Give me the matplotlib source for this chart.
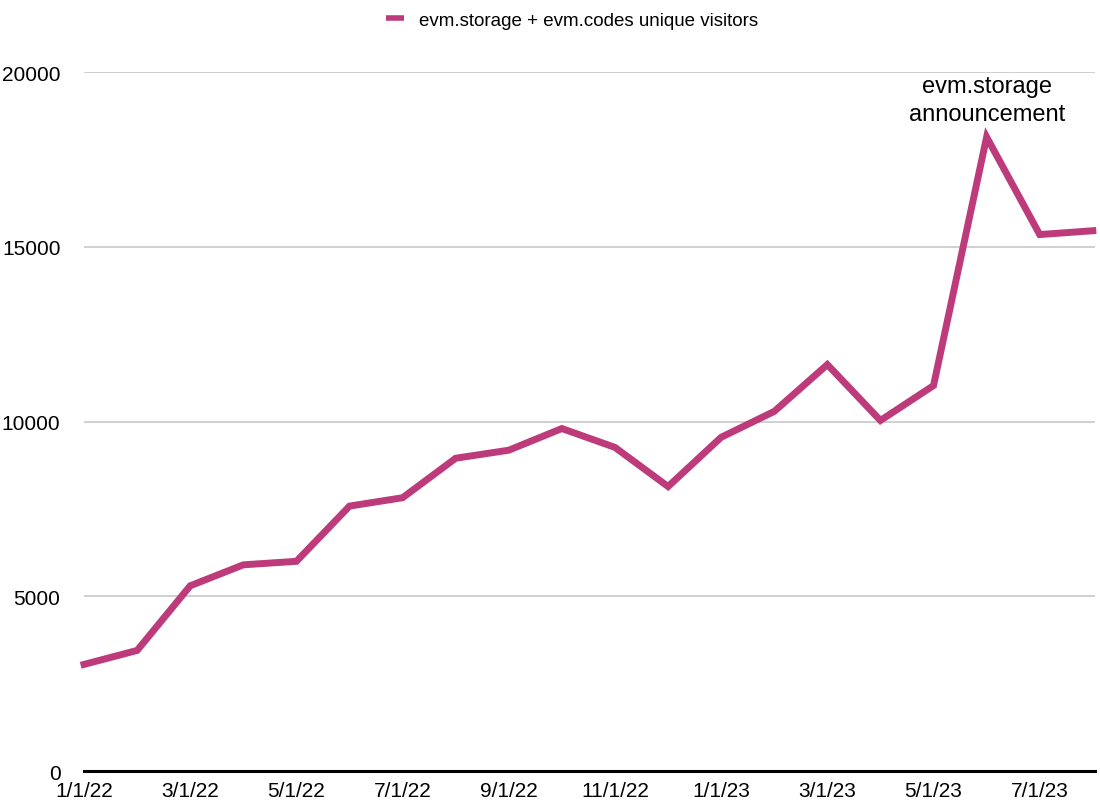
import numpy as np
import matplotlib
matplotlib.use("Agg")
import matplotlib.pyplot as plt

plt.rcParams["font.family"] = ["Liberation Sans", "DejaVu Sans"]

# monthly unique visitors, Jan 2022 .. Aug 2023
months = ["1/1/22", "2/1/22", "3/1/22", "4/1/22", "5/1/22", "6/1/22", "7/1/22",
          "8/1/22", "9/1/22", "10/1/22", "11/1/22", "12/1/22", "1/1/23", "2/1/23",
          "3/1/23", "4/1/23", "5/1/23", "6/1/23", "7/1/23", "8/1/23"]
visitors = [3050, 3450, 5300, 5900, 6000, 7580, 7820, 8950, 9180, 9800,
            9260, 8140, 9550, 10290, 11630, 10030, 11030, 18140, 15350, 15460]
yticks = [0, 5000, 10000, 15000, 20000]
label = "evm.storage + evm.codes unique visitors"
note = "evm.storage\nannouncement"
note_month = 17

color = "#BE3B7B"

fig = plt.figure(figsize=(11, 8.03), dpi=100)
ax = fig.add_axes([0.0764, 0.0386, 0.919, 0.8704])

x = np.arange(len(months))
ax.plot(x, visitors, color=color, lw=5, solid_joinstyle="miter", label=label,
        clip_on=False, zorder=3)

ax.set_xlim(0, len(months) - 1 + 0.04)
ax.set_ylim(0, 20000)
ax.set_yticks(yticks)
ax.set_yticklabels([str(v) for v in yticks])
ax.set_xticks(x[::2])
ax.set_xticklabels(months[::2])
ax.tick_params(axis="both", length=0, labelsize=15, colors="black")
ax.tick_params(axis="y", pad=17)
ax.tick_params(axis="x", pad=7)

ax.grid(axis="y", color="#c8c8c8", lw=1.2)
ax.set_axisbelow(True)
for s in ["top", "right", "left"]:
    ax.spines[s].set_visible(False)
ax.spines["bottom"].set_linewidth(2.2)
ax.spines["bottom"].set_zorder(4)

ax.annotate(note, xy=(note_month, visitors[note_month]), xytext=(0, 9),
            textcoords="offset points", ha="center", va="bottom", fontsize=17,
            linespacing=1.3)

leg = fig.legend(handles=ax.get_lines(), loc="upper center", bbox_to_anchor=(0.52, 1.005),
                 frameon=False, fontsize=13.5, handlelength=1.0, handletextpad=0.8)
for h in leg.get_lines():
    h.set_linewidth(4)
    h.set_solid_capstyle("butt")

fig.savefig("out.png", dpi=100)
